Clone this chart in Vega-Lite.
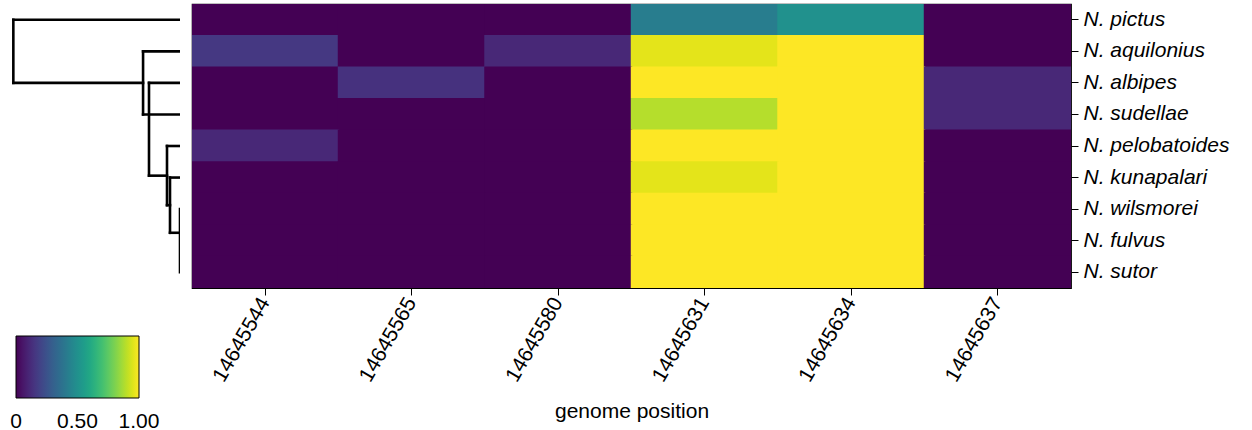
{
  "$schema": "https://vega.github.io/schema/vega-lite/v6.json",
  "padding": {"left": 10, "top": 3, "right": 0, "bottom": 0},
  "background": "white",
  "config": {
    "view": {"stroke": null},
    "font": "Liberation Sans",
    "axis": {"labelColor": "black", "tickColor": "black", "domainColor": "black", "titleColor": "black", "labelFont": "Liberation Sans", "titleFont": "Liberation Sans"},
    "legend": {"labelFont": "Liberation Sans", "labelColor": "black"}
  },
  "datasets": {
    "tree": [
      {"d1": 1.0, "d2": 0.0, "y1": 0, "y2": 0},
      {"d1": 1.0, "d2": 1.0, "y1": 0, "y2": 2},
      {"d1": 1.0, "d2": 0.2216, "y1": 2, "y2": 2},
      {"d1": 0.2216, "d2": 0.2216, "y1": 1, "y2": 3},
      {"d1": 0.2216, "d2": 0.0, "y1": 1, "y2": 1},
      {"d1": 0.2216, "d2": 0.0, "y1": 3, "y2": 3},
      {"d1": 0.186, "d2": 0.186, "y1": 2, "y2": 4.94},
      {"d1": 0.186, "d2": 0.0, "y1": 2, "y2": 2},
      {"d1": 0.186, "d2": 0.078, "y1": 4.94, "y2": 4.94},
      {"d1": 0.078, "d2": 0.078, "y1": 4, "y2": 5.875},
      {"d1": 0.078, "d2": 0.0, "y1": 4, "y2": 4},
      {"d1": 0.078, "d2": 0.06, "y1": 5.875, "y2": 5.875},
      {"d1": 0.06, "d2": 0.06, "y1": 5, "y2": 6.75},
      {"d1": 0.06, "d2": 0.0, "y1": 5, "y2": 5},
      {"d1": 0.06, "d2": 0.0, "y1": 6.75, "y2": 6.75},
      {"d1": 0.0, "d2": 0.0, "y1": 6, "y2": 8}
    ],
    "heat": [
      {"species": "N. pictus", "pos": "14645544", "v": 0},
      {"species": "N. pictus", "pos": "14645565", "v": 0},
      {"species": "N. pictus", "pos": "14645580", "v": 0},
      {"species": "N. pictus", "pos": "14645631", "v": 0.42},
      {"species": "N. pictus", "pos": "14645634", "v": 0.5},
      {"species": "N. pictus", "pos": "14645637", "v": 0},
      {"species": "N. aquilonius", "pos": "14645544", "v": 0.16},
      {"species": "N. aquilonius", "pos": "14645565", "v": 0},
      {"species": "N. aquilonius", "pos": "14645580", "v": 0.11},
      {"species": "N. aquilonius", "pos": "14645631", "v": 0.96},
      {"species": "N. aquilonius", "pos": "14645634", "v": 1},
      {"species": "N. aquilonius", "pos": "14645637", "v": 0},
      {"species": "N. albipes", "pos": "14645544", "v": 0},
      {"species": "N. albipes", "pos": "14645565", "v": 0.14},
      {"species": "N. albipes", "pos": "14645580", "v": 0},
      {"species": "N. albipes", "pos": "14645631", "v": 1},
      {"species": "N. albipes", "pos": "14645634", "v": 1},
      {"species": "N. albipes", "pos": "14645637", "v": 0.11},
      {"species": "N. sudellae", "pos": "14645544", "v": 0},
      {"species": "N. sudellae", "pos": "14645565", "v": 0},
      {"species": "N. sudellae", "pos": "14645580", "v": 0},
      {"species": "N. sudellae", "pos": "14645631", "v": 0.89},
      {"species": "N. sudellae", "pos": "14645634", "v": 1},
      {"species": "N. sudellae", "pos": "14645637", "v": 0.11},
      {"species": "N. pelobatoides", "pos": "14645544", "v": 0.11},
      {"species": "N. pelobatoides", "pos": "14645565", "v": 0},
      {"species": "N. pelobatoides", "pos": "14645580", "v": 0},
      {"species": "N. pelobatoides", "pos": "14645631", "v": 1},
      {"species": "N. pelobatoides", "pos": "14645634", "v": 1},
      {"species": "N. pelobatoides", "pos": "14645637", "v": 0},
      {"species": "N. kunapalari", "pos": "14645544", "v": 0},
      {"species": "N. kunapalari", "pos": "14645565", "v": 0},
      {"species": "N. kunapalari", "pos": "14645580", "v": 0},
      {"species": "N. kunapalari", "pos": "14645631", "v": 0.96},
      {"species": "N. kunapalari", "pos": "14645634", "v": 1},
      {"species": "N. kunapalari", "pos": "14645637", "v": 0},
      {"species": "N. wilsmorei", "pos": "14645544", "v": 0},
      {"species": "N. wilsmorei", "pos": "14645565", "v": 0},
      {"species": "N. wilsmorei", "pos": "14645580", "v": 0},
      {"species": "N. wilsmorei", "pos": "14645631", "v": 1},
      {"species": "N. wilsmorei", "pos": "14645634", "v": 1},
      {"species": "N. wilsmorei", "pos": "14645637", "v": 0},
      {"species": "N. fulvus", "pos": "14645544", "v": 0},
      {"species": "N. fulvus", "pos": "14645565", "v": 0},
      {"species": "N. fulvus", "pos": "14645580", "v": 0},
      {"species": "N. fulvus", "pos": "14645631", "v": 1},
      {"species": "N. fulvus", "pos": "14645634", "v": 1},
      {"species": "N. fulvus", "pos": "14645637", "v": 0},
      {"species": "N. sutor", "pos": "14645544", "v": 0},
      {"species": "N. sutor", "pos": "14645565", "v": 0},
      {"species": "N. sutor", "pos": "14645580", "v": 0},
      {"species": "N. sutor", "pos": "14645631", "v": 1},
      {"species": "N. sutor", "pos": "14645634", "v": 1},
      {"species": "N. sutor", "pos": "14645637", "v": 0}
    ]
  },
  "hconcat": [
    {
      "width": 170,
      "height": 284,
      "data": {"name": "tree"},
      "mark": {"type": "rule", "color": "black", "strokeWidth": 2.6, "strokeCap": "square", "clip": true},
      "encoding": {
        "x": {"field": "d1", "type": "quantitative", "scale": {"domain": [0, 1.02], "reverse": true, "nice": false, "zero": false}, "axis": null},
        "x2": {"field": "d2"},
        "y": {"field": "y1", "type": "quantitative", "scale": {"domain": [-0.5, 8.5], "reverse": true, "nice": false, "zero": false}, "axis": null},
        "y2": {"field": "y2"}
      }
    },
    {
      "width": 879,
      "height": 284,
      "view": {"stroke": "black", "strokeWidth": 1.2},
      "data": {"name": "heat"},
      "mark": {"type": "rect", "width": {"band": 1.01}, "height": {"band": 1.04}, "clip": true},
      "encoding": {
        "x": {
          "field": "pos", "type": "nominal", "sort": null,
          "scale": {"paddingInner": 0, "paddingOuter": 0},
          "axis": {"title": "genome position", "titleFontSize": 21, "titleFontWeight": "normal", "titlePadding": 16, "labelAngle": -60, "labelAlign": "right", "labelBaseline": "middle", "labelFontSize": 21, "labelPadding": 4, "tickSize": 7, "domain": false}
        },
        "y": {
          "field": "species", "type": "nominal", "sort": null,
          "scale": {"paddingInner": 0, "paddingOuter": 0},
          "axis": {"orient": "right", "title": null, "labelFontSize": 21, "labelFontStyle": "italic", "tickSize": 7, "labelPadding": 5, "domain": false}
        },
        "color": {
          "field": "v", "type": "quantitative",
          "scale": {"scheme": "viridis", "domain": [0, 1]},
          "legend": {"orient": "none", "legendX": 6, "legendY": 332, "direction": "horizontal", "title": null, "gradientLength": 123, "gradientThickness": 62, "values": [0, 0.5, 1], "labelExpr": "datum.value == 0 ? '0' : format(datum.value, '.2f')", "labelFontSize": 21, "labelOffset": 13, "labelOverlap": false, "gradientStrokeColor": "black", "gradientStrokeWidth": 1, "padding": 0,
            "encode": {"labels": {"update": {"align": {"value": "center"}}}}}
        }
      }
    }
  ],
  "spacing": 11
}
